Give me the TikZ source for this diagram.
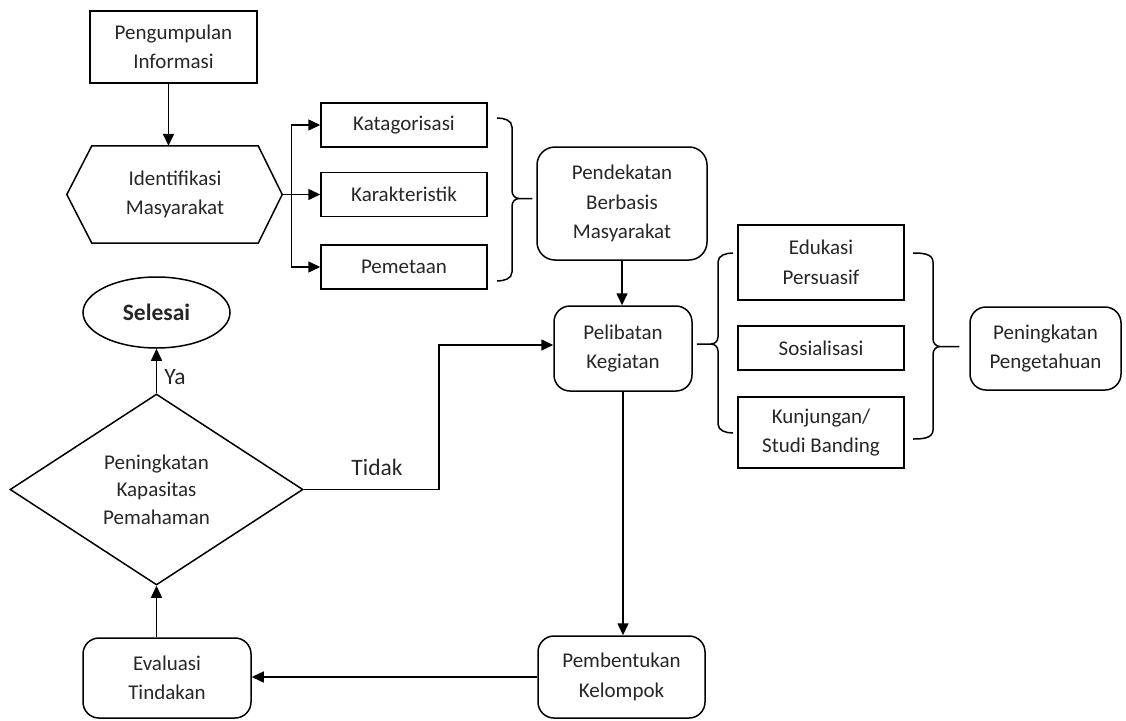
\documentclass[tikz,border=0pt]{standalone}
\usepackage{fontspec}
\setmainfont{Carlito}
\usetikzlibrary{arrows.meta,shapes.geometric}
\begin{document}
\begin{tikzpicture}[x=1pt,y=-1pt,
  every node/.style={font=\fontsize{21}{29.5}\selectfont, text=black!85, align=center, inner sep=0pt},
  ln/.style={line width=1.5pt},
  sq/.style={draw, line width=1.5pt, rectangle},
  rbox/.style={draw, line width=1.5pt, rectangle, rounded corners=16pt},
  dims/.style 2 args={minimum width=#1pt, minimum height=#2pt},
  arr/.style={line width=1.5pt, -{Triangle[length=12pt,width=11pt]}},
  lbl/.style={font=\fontsize{23.5}{28}\selectfont}
]
\useasboundingbox (0,0) rectangle (1126,720);

% nodes
\node[sq, dims={167}{72}] (pi) at (173.5,47) {Pengumpulan\\Informasi};
\node[dims={166}{97}] (id) at (175,194.5) {Identifikasi\\Masyarakat};
\draw[ln] (id.north west) -- (id.north east) -- ([xshift=24pt]id.east) -- (id.south east) -- (id.south west) -- ([xshift=-25pt]id.west) -- cycle;
\coordinate (idR) at ([xshift=24pt]id.east);

\node[sq, dims={166}{44}] (kat) at (404,125) {Katagorisasi};
\node[sq, dims={166}{44}] (kar) at (404,194.5) {Karakteristik};
\node[sq, dims={166}{44}] (pem) at (404,267) {Pemetaan};

\node[rbox, dims={170}{113}, rounded corners=18pt] (pd) at (622,203.5) {Pendekatan\\Berbasis\\Masyarakat};
\node[rbox, dims={138}{85}] (pk) at (623,348.5) {Pelibatan\\Kegiatan};

\node[sq, dims={166}{75}] (ek) at (821,262.5) {Edukasi\\Persuasif};
\node[sq, dims={166}{44}] (so) at (821,348) {Sosialisasi};
\node[sq, dims={166}{71}] (ku) at (821,432.5) {Kunjungan/\\Studi Banding};

\node[rbox, dims={151}{83}] (pp) at (1045.5,348.5) {Peningkatan\\Pengetahuan};

\node[draw, ellipse, ln, dims={147}{71}, font=\bfseries\fontsize{23.5}{28}\selectfont] (sl) at (156.5,312.5) {Selesai};
\node[draw, diamond, ln, dims={293}{191}, font=\fontsize{21}{27.5}\selectfont] (dm) at (156.5,489.5) {Peningkatan\\Kapasitas\\Pemahaman};

\node[rbox, dims={168}{80}] (ev) at (167,678) {Evaluasi\\Tindakan};
\node[rbox, dims={167}{82}] (pb) at (621.5,677) {Pembentukan\\Kelompok};

\node[lbl] (ya) at (175,377) {Ya};
\node[lbl] (td) at (377,467) {Tidak};

% connectors
\draw[arr] ([xshift=-5pt]pi.south) -- ([xshift=-5pt]pi.south |- id.north);
\coordinate (br) at (291.7,194.5);
\draw[arr] (idR) -- (kar.west);
\draw[arr] (br) |- (kat.west);
\draw[arr] (br) |- (pem.west);

\draw[arr] (pd.south) -- (pd.south |- pk.north);
\draw[arr] (pk.south) -- (pk.south |- pb.north);
\draw[arr] (pb.west) -- (pb.west -| ev.east);
\draw[arr] (ev.north -| dm.south) -- (dm.south);
\draw[arr] (dm.north) -- (sl.south);
\draw[arr] (dm.east) -- ++(135,0) |- ([yshift=3.5pt]pk.west);

% braces
\draw[ln] (497,118) to[out=0,in=90] (512,127) -- (512,191) to[out=-90,in=180] (519,198.5) -- ([xshift=-4pt]pd.west |- 0,198.5);
\draw[ln] (497,281) to[out=0,in=-90] (512,272) -- (512,206) to[out=90,in=180] (519,198.5);

\draw[ln] (733,253) to[out=180,in=90] (718,262) -- (718,337) to[out=-90,in=0] (711,344) -- ([xshift=4pt]pk.east |- 0,344);
\draw[ln] (733,433) to[out=180,in=-90] (718,424) -- (718,351) to[out=90,in=0] (711,344);

\draw[ln] (913,253) to[out=0,in=90] (933,262) -- (933,339) to[out=-90,in=180] (940,346.5) -- ([xshift=-10pt]pp.west |- 0,346.5);
\draw[ln] (913,439) to[out=0,in=-90] (933,430) -- (933,354) to[out=90,in=180] (940,346.5);
\end{tikzpicture}
\end{document}
